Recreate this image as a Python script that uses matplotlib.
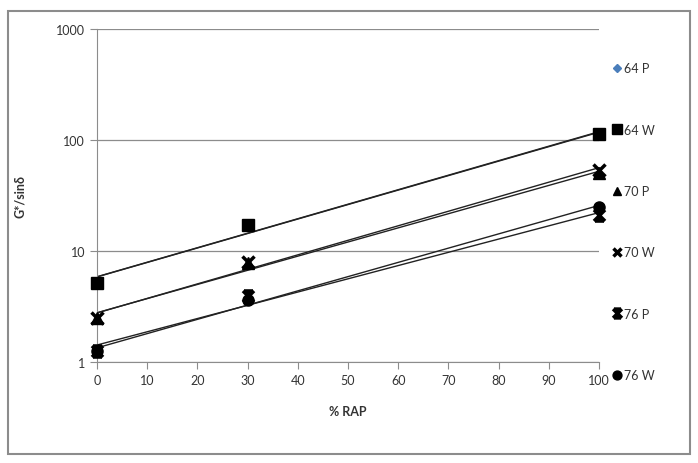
import numpy as np
import matplotlib.pyplot as plt
from matplotlib.patches import Rectangle
from matplotlib.path import Path

plt.rcParams['font.family'] = ['Lato', 'DejaVu Sans']

rap = [0, 30, 100]
labels = ['64 P', '64 W', '70 P', '70 W', '76 P', '76 W']
g64p = [5.2, 17.0, 112.0]
g64w = [5.2, 17.2, 113.0]
g70p = [2.5, 7.8, 50.0]
g70w = [2.5, 7.9, 54.0]
g76p = [1.25, 3.9, 21.0]
g76w = [1.25, 3.6, 25.0]

# Excel-like "star" marker: an X with bars top and bottom
star = Path([(-1, 1), (1, -1), (-1, -1), (1, 1), (-0.8, 1), (0.8, 1),
             (-0.8, -1), (0.8, -1), (0, -1), (0, 1)],
            [Path.MOVETO, Path.LINETO, Path.MOVETO, Path.LINETO,
             Path.MOVETO, Path.LINETO, Path.MOVETO, Path.LINETO,
             Path.MOVETO, Path.LINETO])

series = [g64p, g64w, g70p, g70w, g76p, g76w]
markers = ['D', 's', '^', 'x', star, 'o']
colors = ['#4a7ebb', 'k', 'k', 'k', 'k', 'k']
sizes = [5, 9, 8, 8, 8, 8]
edgew = [1, 1, 1, 2.5, 2.5, 1]

fig = plt.figure(figsize=(6.98, 4.64), dpi=100)
ax = fig.add_axes([0.139, 0.2177, 0.719, 0.7173])

# outer chart border
fig.patches.append(Rectangle((0.012, 0.02), 0.976, 0.955, transform=fig.transFigure,
                             fill=False, edgecolor='#8c8c8c', linewidth=1.5))

xx = np.linspace(0, 100, 50)
handles = []
for vals, m, c, s, ew, lab in zip(series, markers, colors, sizes, edgew, labels):
    # exponential trendline (Excel style)
    k, b = np.polyfit(rap, np.log(vals), 1)
    ax.plot(xx, np.exp(b + k * xx), color='#222222', linewidth=1.0, zorder=2)
    h, = ax.plot(rap, vals, linestyle='none', marker=m, color=c, markersize=s,
                 markeredgewidth=ew, zorder=3, label=lab, clip_on=False)
    handles.append(h)

ax.set_yscale('log')
ax.set_ylim(1, 1000)
ax.set_xlim(0, 100)
ax.set_xticks(range(0, 101, 10))
ax.set_yticks([1, 10, 100, 1000])
ax.set_yticklabels(['1', '10', '100', '1000'])
ax.minorticks_off()
ax.yaxis.grid(True, color='#8c8c8c', linewidth=0.9)
ax.set_axisbelow(True)
for sp in ['top', 'right']:
    ax.spines[sp].set_visible(False)
for sp in ['left', 'bottom']:
    ax.spines[sp].set_color('#8c8c8c')
ax.tick_params(colors='#8c8c8c', labelcolor='#333333', labelsize=9, length=5)
ax.set_xlabel('% RAP', fontsize=9, fontweight='bold', color='#333333', labelpad=14)
ax.set_ylabel('G*/sinδ', fontsize=9, fontweight='bold', color='#333333', labelpad=22)

fig.legend(handles=handles, labels=labels, loc='upper left',
           bbox_to_anchor=(0.862, 0.888), frameon=False, fontsize=9,
           labelspacing=3.95, handlelength=0.6, handletextpad=0.3,
           markerscale=0.8, labelcolor='#333333')

fig.savefig('out.png', dpi=100)
